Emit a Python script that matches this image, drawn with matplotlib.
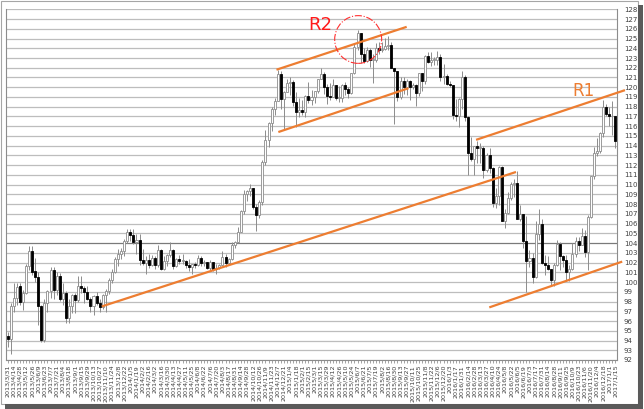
import numpy as np
import pandas as pd
import matplotlib
matplotlib.use("Agg")
import matplotlib.pyplot as plt
from matplotlib.patches import Rectangle, Ellipse

# weekly USD/JPY candles, week ending (labelled by the following Sunday)
first_week = "2013-03-31"

opens = [94.5, 94.2, 97.5, 98.4, 99.6, 98.0, 98.9, 101.6, 103.2, 101.1,
         100.5, 97.5, 94.1, 97.9, 99.1, 101.2, 99.2, 100.6, 98.3, 98.9,
         96.3, 97.5, 98.7, 98.2, 99.6, 99.4, 99.0, 98.3, 97.5, 98.6,
         97.8, 97.4, 98.7, 99.1, 100.2, 101.0, 102.4, 102.9, 103.2, 104.2,
         105.1, 104.8, 104.1, 104.3, 102.3, 102.0, 102.3, 101.8, 102.5, 101.8,
         103.3, 101.3, 102.2, 102.8, 103.3, 101.6, 102.4, 102.2, 102.2, 101.8,
         101.5, 101.9, 101.8, 102.5, 102.0, 102.1, 101.4, 102.1, 101.3, 101.4,
         101.8, 102.6, 102.0, 102.4, 103.8, 104.1, 105.1, 107.3, 109.0, 109.3,
         109.7, 107.7, 106.9, 108.2, 112.3, 114.6, 116.3, 117.8, 118.6, 121.4,
         118.8, 119.5, 120.4, 120.5, 118.5, 117.5, 117.7, 117.5, 119.1, 118.7,
         119.0, 119.6, 120.8, 121.4, 120.0, 119.1, 119.0, 120.2, 118.9, 118.9,
         120.2, 119.8, 119.4, 121.5, 124.1, 125.6, 123.4, 122.7, 123.8, 122.8,
         122.8, 124.0, 123.8, 123.9, 124.2, 124.3, 122.0, 121.7, 119.0, 120.6,
         120.0, 120.6, 120.0, 120.2, 119.4, 121.5, 120.6, 123.2, 122.6, 122.8,
         122.8, 123.1, 121.0, 121.2, 120.3, 120.2, 117.2, 117.0, 118.8, 121.1,
         116.9, 113.2, 112.6, 114.0, 113.8, 113.8, 111.5, 113.0, 111.7, 108.1,
         108.8, 111.8, 106.3, 107.1, 108.6, 110.1, 110.2, 106.5, 107.0, 104.2,
         102.2, 102.5, 100.5, 104.9, 106.0, 102.0, 101.8, 101.3, 100.2, 101.8,
         103.9, 102.7, 102.3, 101.0, 101.3, 102.9, 104.2, 103.8, 104.7, 103.1,
         106.7, 110.9, 113.2, 113.5, 115.3, 118.0, 117.3, 117.0, 117.0]
highs = [94.9, 97.8, 99.9, 99.9, 99.9, 99.2, 101.9, 103.7, 103.7, 102.5,
         101.0, 97.6, 98.3, 99.2, 101.5, 101.5, 101.0, 100.9, 99.9, 99.1,
         98.3, 98.8, 98.9, 100.6, 100.6, 99.6, 99.6, 98.5, 98.7, 99.0,
         98.3, 98.8, 99.3, 100.4, 101.3, 102.6, 103.4, 103.5, 104.4, 105.4,
         105.4, 105.4, 104.9, 104.9, 103.4, 102.7, 102.9, 102.8, 102.7, 103.8,
         103.4, 102.7, 102.9, 104.1, 103.4, 102.5, 102.8, 102.9, 102.3, 102.4,
         101.9, 102.1, 102.8, 102.7, 102.3, 102.1, 102.3, 102.1, 101.9, 101.9,
         103.2, 102.9, 102.5, 104.1, 104.2, 105.7, 107.4, 109.5, 109.5, 110.1,
         109.7, 108.0, 108.4, 112.5, 115.6, 116.4, 118.0, 118.9, 121.8, 121.7,
         119.6, 120.8, 121.0, 120.7, 119.5, 118.9, 118.7, 119.2, 120.5, 119.7,
         119.6, 120.8, 122.0, 121.6, 120.3, 120.4, 120.8, 120.2, 120.1, 120.3,
         120.5, 120.0, 121.5, 124.4, 125.9, 125.6, 124.0, 124.1, 124.0, 123.4,
         124.5, 124.6, 124.6, 125.1, 125.3, 124.6, 122.0, 121.7, 121.0, 121.0,
         120.8, 120.7, 120.4, 120.3, 121.5, 121.5, 123.3, 123.6, 123.6, 123.1,
         123.7, 123.4, 122.4, 121.4, 120.6, 120.2, 118.8, 118.9, 121.7, 121.3,
         117.0, 114.9, 114.0, 114.5, 114.3, 114.0, 113.2, 113.8, 111.8, 109.7,
         111.9, 111.9, 107.5, 109.2, 110.3, 110.6, 111.4, 107.9, 107.0, 106.8,
         103.3, 103.0, 106.3, 107.5, 106.5, 102.8, 102.7, 101.3, 102.0, 104.3,
         104.1, 102.8, 102.8, 101.8, 104.0, 104.6, 104.6, 105.5, 105.3, 106.9,
         110.9, 113.9, 114.8, 115.4, 118.7, 118.3, 118.0, 118.6, 117.0]
lows = [93.3, 92.6, 96.9, 97.6, 97.6, 97.1, 98.8, 101.2, 100.7, 100.0,
        95.6, 93.8, 93.8, 96.9, 98.4, 98.3, 98.7, 98.1, 97.6, 95.8,
        95.8, 96.8, 96.8, 98.0, 98.9, 97.8, 98.2, 96.9, 96.6, 97.6,
        96.9, 97.2, 96.9, 98.8, 99.9, 100.9, 101.6, 102.4, 102.7, 104.0,
        104.2, 103.9, 102.9, 101.8, 101.8, 100.8, 101.4, 101.6, 101.3, 101.5,
        101.2, 101.2, 101.7, 102.6, 101.3, 101.5, 101.9, 101.9, 101.4, 101.1,
        100.8, 101.4, 101.6, 101.7, 101.7, 101.3, 101.2, 101.1, 100.8, 101.3,
        101.7, 101.5, 102.0, 102.3, 103.5, 104.0, 105.1, 107.0, 108.3, 108.8,
        107.5, 105.2, 106.6, 107.9, 112.0, 113.9, 115.5, 117.2, 118.6, 117.8,
        115.6, 119.5, 119.2, 118.1, 115.9, 116.9, 117.2, 116.9, 118.4, 118.2,
        118.4, 119.4, 120.8, 119.3, 118.3, 118.7, 119.0, 118.7, 118.5, 118.5,
        119.2, 118.9, 119.3, 121.4, 123.8, 122.5, 122.5, 122.6, 122.1, 120.4,
        122.6, 123.4, 123.6, 123.8, 123.8, 122.0, 116.2, 118.6, 118.8, 119.3,
        119.2, 118.7, 119.8, 118.1, 119.1, 119.6, 120.3, 122.5, 122.2, 122.3,
        122.3, 120.6, 120.3, 120.2, 120.0, 116.7, 116.5, 115.9, 117.8, 116.5,
        111.0, 112.4, 111.0, 112.2, 112.2, 110.7, 111.3, 111.2, 107.7, 107.6,
        107.9, 106.3, 105.5, 107.0, 108.4, 108.7, 106.5, 106.3, 103.5, 99.0,
        101.5, 99.9, 100.4, 104.3, 101.9, 100.7, 101.2, 99.6, 99.6, 101.6,
        101.2, 101.5, 100.1, 100.1, 101.2, 102.6, 103.2, 103.8, 102.6, 101.2,
        106.6, 110.6, 112.9, 113.2, 114.9, 117.0, 116.0, 115.1, 113.8]
closes = [94.2, 97.5, 98.4, 99.5, 98.0, 98.9, 101.6, 103.2, 101.0, 100.5,
          97.5, 94.1, 97.9, 99.1, 101.2, 99.2, 100.6, 98.3, 98.9, 96.3,
          97.5, 98.7, 98.2, 99.6, 99.4, 99.0, 98.3, 97.5, 98.6, 97.8,
          97.4, 98.7, 99.1, 100.2, 101.0, 102.4, 102.9, 103.2, 104.2, 105.1,
          104.8, 104.1, 104.3, 102.3, 102.0, 102.3, 101.8, 102.5, 101.8, 103.3,
          101.3, 102.2, 102.8, 103.3, 101.6, 102.4, 102.2, 102.2, 101.8, 101.5,
          101.9, 101.8, 102.5, 102.0, 102.1, 101.4, 102.1, 101.3, 101.4, 101.8,
          102.6, 102.0, 102.4, 103.8, 104.1, 105.1, 107.3, 109.0, 109.3, 109.7,
          107.7, 106.9, 108.2, 112.3, 114.6, 116.3, 117.8, 118.6, 121.4, 118.8,
          119.5, 120.4, 120.5, 118.5, 117.5, 117.7, 117.5, 119.1, 118.7, 119.0,
          119.6, 120.8, 121.4, 120.0, 119.1, 119.0, 120.2, 118.9, 118.9, 120.2,
          119.8, 119.4, 121.5, 124.1, 125.6, 123.4, 122.7, 123.8, 122.8, 122.8,
          124.0, 123.8, 123.9, 124.2, 124.3, 122.0, 121.7, 119.0, 120.6, 120.0,
          120.6, 120.0, 120.2, 119.4, 121.5, 120.6, 123.2, 122.6, 122.8, 122.8,
          123.1, 121.0, 121.2, 120.3, 120.2, 117.2, 117.0, 118.8, 121.1, 116.9,
          113.2, 112.6, 114.0, 113.8, 113.8, 111.5, 113.0, 111.7, 108.1, 108.8,
          111.8, 106.3, 107.1, 108.6, 110.1, 110.2, 106.5, 107.0, 104.2, 102.2,
          102.5, 100.5, 104.9, 106.0, 102.0, 101.8, 101.3, 100.2, 101.8, 103.9,
          102.7, 102.3, 101.0, 101.3, 102.9, 104.2, 103.8, 104.7, 103.1, 106.7,
          110.9, 113.2, 113.5, 115.3, 118.0, 117.3, 117.0, 117.0, 114.5]

# hand-drawn trend lines: (week index, price) at both ends
support_line = [(30.7, 97.5), (165.6, 111.3)]
r2_upper = [(87.6, 121.8), (130.0, 126.2)]
r2_lower = [(88.2, 115.4), (130.6, 119.9)]
r1_upper = [(152.6, 114.6), (201.1, 119.7)]
r1_lower = [(156.9, 97.4), (200.2, 102.1)]
trend_lines = [support_line, r2_upper, r2_lower, r1_upper, r1_lower]

r2_circle = (114.2, 124.9)
r2_label = (101.8, 126.4)
r1_label = (187.5, 119.6)

y_min, y_max = 92, 128

n = len(closes)
weeks = pd.date_range(first_week, periods=n, freq="7D")
week_labels = [f"{d.year}/{d.month}/{d.day}" for d in weeks]

W, H = 644, 409
fig = plt.figure(figsize=(W / 100, H / 100), dpi=100)
ax = fig.add_axes([6 / W, 1 - 360 / H, 611 / W, 350.7 / H])

for v in range(y_min, y_max + 1):
    ax.axhline(v, color="#7a7a7a" if v == 104 else "#bdbdbd", lw=0.9, zorder=1)

x = np.arange(n)
ax.vlines(x, lows, highs, color="#8c8c8c", lw=0.7, zorder=2)
for i in range(n):
    o, c = opens[i], closes[i]
    lo, hi = min(o, c), max(o, c)
    h = max(hi - lo, 0.06)
    if c >= o:
        rect = Rectangle((i - 0.33, lo), 0.66, h, facecolor="white",
                         edgecolor="#8c8c8c", lw=0.6, zorder=3)
    else:
        rect = Rectangle((i - 0.33, lo), 0.66, h, facecolor="black",
                         edgecolor="black", lw=0.6, zorder=3)
    ax.add_patch(rect)

for (x0, y0), (x1, y1) in trend_lines:
    ax.plot([x0, x1], [y0, y1], color="#ED7D31", lw=1.6, zorder=5,
            clip_on=False, solid_capstyle="butt")

ax.add_patch(Ellipse(r2_circle, 15.3, 4.9, fill=False, edgecolor="#ff3030",
                     lw=0.8, ls="-.", zorder=6))
ax.text(*r2_label, "R2", color="#ff1a1a", fontsize=13, ha="center",
        va="center", zorder=6)
ax.text(*r1_label, "R1", color="#ED7D31", fontsize=12, ha="center",
        va="center", zorder=6)

ax.set_xlim(-0.5, n - 0.5)
ax.set_ylim(y_min, y_max)
ax.set_xticks(x[::2])
ax.set_xticklabels(week_labels[::2], rotation=90, fontsize=4.6, color="#404040")
ax.set_xticks(x, minor=True)
ax.tick_params(axis="x", which="both", length=2, width=0.5, color="#808080",
               pad=1.5)
ax.yaxis.tick_right()
ax.set_yticks(range(y_min, y_max + 1))
ax.tick_params(axis="y", length=0, pad=5, labelsize=5, labelcolor="#404040")

for side in ["left", "right", "bottom"]:
    ax.spines[side].set_color("#8c8c8c")
    ax.spines[side].set_linewidth(0.8)
ax.spines["top"].set_visible(False)

# picture frame with drop shadow
fig.add_artist(Rectangle((0.5 / W, 1 - 403.5 / H), 637 / W, 403 / H,
                         transform=fig.transFigure, fill=False,
                         edgecolor="#a6a6a6", lw=0.8))
fig.add_artist(Rectangle((638 / W, 0), 5 / W, 1 - 5 / H,
                         transform=fig.transFigure, color="#5a5a5a", lw=0))
fig.add_artist(Rectangle((5 / W, 0), 638 / W, 5 / H,
                         transform=fig.transFigure, color="#5a5a5a", lw=0))

fig.savefig("out.png", dpi=100)
